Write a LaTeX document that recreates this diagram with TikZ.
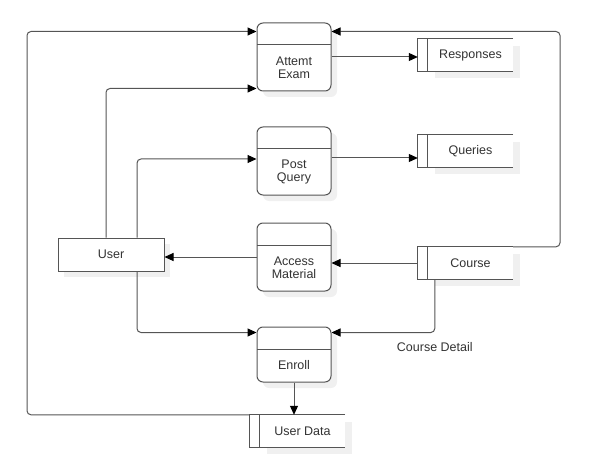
\documentclass[tikz,border=0pt]{standalone}
\usepackage{fontspec}
\setmainfont{Liberation Sans}
\usetikzlibrary{arrows.meta,calc,shadows}
\definecolor{ink}{HTML}{333333}
\definecolor{wire}{HTML}{555555}
\definecolor{shade}{HTML}{F0F0F0}

\begin{document}
\begin{tikzpicture}[x=1pt,y=-1pt,>={Triangle[length=9pt,width=8pt,color=black]},
  font=\fontsize{12.5}{13}\selectfont,text=ink,
  proc/.style={draw=wire,line width=1pt,rounded corners=6pt,fill=white,minimum width=74pt,inner sep=0pt,
    drop shadow={shadow xshift=6pt,shadow yshift=-6pt,fill=shade,opacity=1},
    path picture={\draw[wire,line width=1pt] ([yshift=-22pt]path picture bounding box.north west) -- ([yshift=-22pt]path picture bounding box.north east);}},
  caption/.style={align=center,inner sep=0pt},
  store/.style={fill=white,minimum width=85pt,minimum height=32pt,inner sep=0pt,
    drop shadow={shadow xshift=7pt,shadow yshift=-7pt,fill=shade,opacity=1}},
  flow/.style={draw=wire,line width=1pt,->,rounded corners=4pt}]
\useasboundingbox (0,0) rectangle (591,473);
% processes
\node[proc,minimum height=68pt] (exam) at (294,57) {};
\node[caption] (examtxt) at ([yshift=-11pt]exam.center) {Attemt\\Exam};
\node[proc,minimum height=68pt] (post) at (294,161) {};
\node[caption] (posttxt) at ([yshift=-11pt]post.center) {Post\\Query};
\node[proc,minimum height=68pt] (access) at (294,257) {};
\node[caption] (accesstxt) at ([yshift=-11pt]access.center) {Access\\Material};
\node[proc,minimum height=55pt] (enroll) at (294,354.5) {};
\node[caption] (enrolltxt) at ([yshift=-11pt]enroll.center) {Enroll};
% entity
\node[draw=wire,line width=1pt,fill=white,minimum width=106pt,minimum height=33pt,
  drop shadow={shadow xshift=6pt,shadow yshift=-6pt,fill=shade,opacity=1}] (user) at (111,254.5) {User};
% data stores
\node[store] (resp) at (470.5,55) {Responses};
\node[store] (queries) at (470.5,151) {Queries};
\node[store] (course) at (470.5,263) {Course};
\node[store] (udata) at (302.5,431) {User Data};
\foreach \s in {resp,queries,course,udata}{
  \draw[wire,line width=1pt] (\s.north east) -- ([xshift=-10pt]\s.north west) -- ([xshift=-10pt]\s.south west) -- (\s.south east);
  \draw[wire,line width=1pt] (\s.north west) -- (\s.south west);
  \coordinate (\s-edge) at ([xshift=-10pt]\s.west);
}
\coordinate (leftrail) at (27,32);
\coordinate (rightrail) at (560,32);
\coordinate (postout) at ([yshift=3pt]post.east);
% flows
\draw[flow] ([xshift=-5pt]user.north) |- ([yshift=3pt]exam.south west);
\draw[flow] ([xshift=26pt]user.north) |- ([yshift=2pt]post.west);
\draw[flow] ([xshift=26pt]user.south) |- ([yshift=-6pt]enroll.north west);
\draw[flow] (udata-edge |- udata.north) -- (leftrail |- udata.north) |- ([yshift=-9pt]exam.north west);
\draw[flow] (course.north east) -- (rightrail |- course.north) |- ([yshift=-9pt]exam.north east);
\draw[flow] (course-edge) -- (course-edge -| access.east);
\draw[flow] (access.west) -- (access.west -| user.east);
\draw[flow] ([xshift=7pt]course.south west) |- node[pos=0.5,below=6pt] (detail) {Course Detail} ([yshift=-6pt]enroll.north east);
\draw[flow] (exam.east) -- (exam.east -| resp-edge);
\draw[flow] (postout) -- (postout -| queries-edge);
\draw[flow] (enroll.south) -- (enroll.south |- udata.north);
\end{tikzpicture}
\end{document}
